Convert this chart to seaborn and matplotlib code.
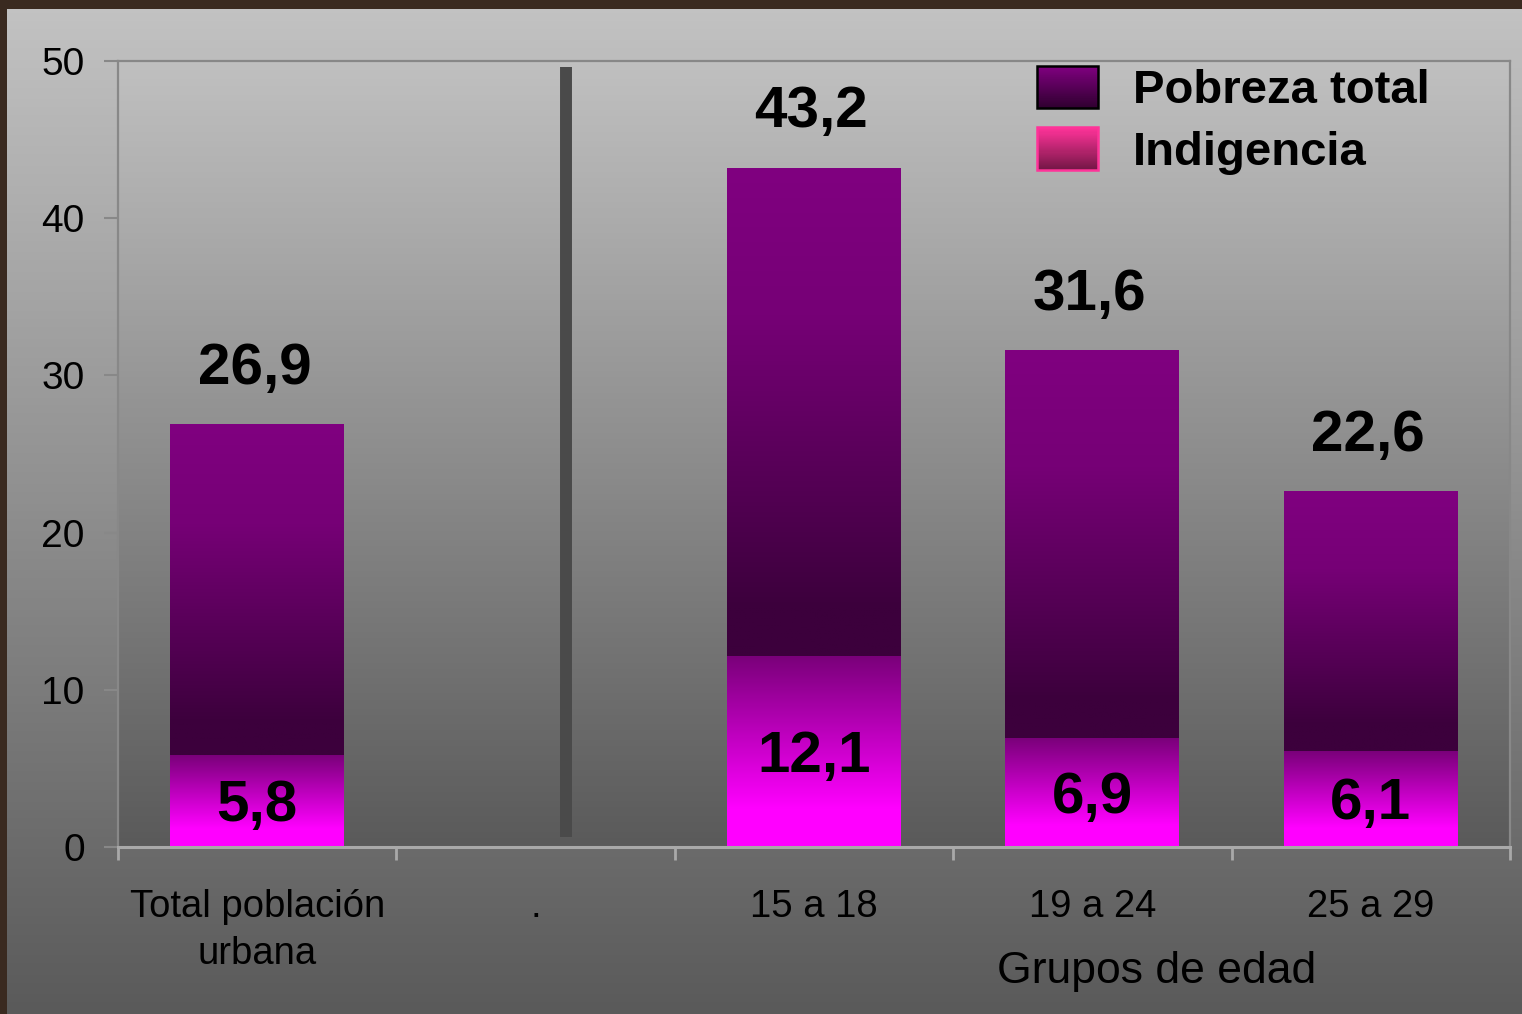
import numpy as np
import pandas as pd
import matplotlib
matplotlib.use("Agg")
import matplotlib.pyplot as plt
from matplotlib.colors import LinearSegmentedColormap
from matplotlib.patches import Patch, Rectangle
from matplotlib.legend_handler import HandlerBase
import seaborn as sns

# %% datos
categorias = ["Total población\nurbana", ".", "15 a 18", "19 a 24", "25 a 29"]
grupos = ["Total población\nurbana", "15 a 18", "19 a 24", "25 a 29"]
pobreza_total = [26.9, 43.2, 31.6, 22.6]
indigencia = [5.8, 12.1, 6.9, 6.1]
etiquetas_total = ["26,9", "43,2", "31,6", "22,6"]
etiquetas_ind = ["5,8", "12,1", "6,9", "6,1"]
y_ticks = [0, 10, 20, 30, 40, 50]

df = pd.DataFrame({"Grupo": grupos, "Pobreza total": pobreza_total, "Indigencia": indigencia})

# %% estilo
sns.set_style("ticks")
plt.rcParams["font.family"] = ["Liberation Sans", "DejaVu Sans"]
plt.rcParams["text.color"] = "black"

cmap_pobreza = LinearSegmentedColormap.from_list(
    "pob", [(0, "#800080"), (0.3, "#760076"), (0.9, "#3c003c"), (1, "#3c003c")])
cmap_indig = LinearSegmentedColormap.from_list(
    "ind", [(0, "#7a007a"), (0.8, "#ff00ff"), (1, "#ff00ff")])
cmap_fondo = LinearSegmentedColormap.from_list("fondo", ["#c2c2c2", "#5a5a5a"])
cmap_area = LinearSegmentedColormap.from_list("area", ["#c0c0c0", "#5a5a5a"])
cmap_leg_pob = LinearSegmentedColormap.from_list("lp", ["#800080", "#300030"])
cmap_leg_ind = LinearSegmentedColormap.from_list("li", ["#ff3399", "#771748"])

grad = np.linspace(0, 1, 256).reshape(-1, 1)

fig = plt.figure(figsize=(15.22, 10.14), dpi=100)
fig.patch.set_facecolor("#3a2a20")

# panel de fondo
bg = fig.add_axes([7 / 1522, 0, 1 - 7 / 1522, 1 - 9 / 1014], zorder=-10)
bg.imshow(grad, aspect="auto", cmap=cmap_fondo, extent=[0, 1, 0, 1])
bg.set_axis_off()

ax = fig.add_axes([118 / 1522, 1 - 847 / 1014, 1392 / 1522, 786 / 1014])
ax.set_facecolor("none")
ax.imshow(grad, aspect="auto", cmap=cmap_area, extent=[0, 1, 0, 1], transform=ax.transAxes, zorder=0)

# barras
sns.barplot(data=df, x="Grupo", y="Pobreza total", order=categorias, width=0.625,
            errorbar=None, ax=ax, color="#800080")
n = len(ax.patches)
sns.barplot(data=df, x="Grupo", y="Indigencia", order=categorias, width=0.625,
            errorbar=None, ax=ax, color="#ff00ff")
bars_total = ax.patches[:n]
bars_ind = ax.patches[n:]

for bt, bi, lt, li in zip(bars_total, bars_ind, etiquetas_total, etiquetas_ind):
    x0, w = bt.get_x(), bt.get_width()
    top, ind = bt.get_height(), bi.get_height()
    bt.set_facecolor("none"); bt.set_linewidth(0)
    bi.set_facecolor("none"); bi.set_linewidth(0)
    ax.imshow(grad, aspect="auto", cmap=cmap_pobreza, extent=[x0, x0 + w, ind, top], zorder=2)
    ax.imshow(grad, aspect="auto", cmap=cmap_indig, extent=[x0, x0 + w, 0, ind], zorder=2)
    xc = x0 + w / 2
    ax.annotate(lt, (xc, top), xytext=(-2, 40), textcoords="offset points",
                ha="center", va="center", fontsize=42, fontweight="bold", color="black")
    ax.annotate(li, (xc, ind / 2), xytext=(0, -3.5), textcoords="offset points",
                ha="center", va="center", fontsize=42, fontweight="bold", color="black", zorder=4)

# separador
ax.axvline(1.11, ymin=0.64 / 50, ymax=49.6 / 50, color="#4a4a4a", linewidth=8.6,
           solid_capstyle="butt", zorder=3)

ax.set_xlim(-0.5, 4.5)
ax.set_ylim(0, 50)
ax.set_yticks(y_ticks)
ax.set_yticklabels([str(v) for v in y_ticks])
ax.set_xlabel("")
ax.set_ylabel("")

for s in ["top", "right", "left"]:
    ax.spines[s].set_visible(True)
    ax.spines[s].set_color("#888888")
    ax.spines[s].set_linewidth(1.6)
ax.spines["bottom"].set_color("#a9a9a9")
ax.spines["bottom"].set_linewidth(2.2)

ax.tick_params(axis="y", length=10, width=1.5, color="#888888", labelsize=28, pad=14, labelcolor="black")
ax.tick_params(axis="x", which="major", length=0, labelsize=27.5, pad=30, labelcolor="black")
for t in ax.get_xticklabels():
    t.set_linespacing(1.4)
ax.set_xticks(np.arange(-0.5, 5, 1), minor=True)
ax.tick_params(axis="x", which="minor", length=9, width=2, color="#a9a9a9")

fig.text(1157 / 1522, 1 - 972 / 1014, "Grupos de edad", ha="center", va="center",
         fontsize=32, color="black")


# leyenda con degradado
class GradHandler(HandlerBase):
    def __init__(self, cmap, edge):
        super().__init__()
        self.cmap, self.edge = cmap, edge

    def create_artists(self, legend, orig_handle, xdescent, ydescent, width, height, fontsize, trans):
        arts = []
        steps = 40
        for i in range(steps):
            y = -ydescent + height * (1 - (i + 1) / steps)
            arts.append(Rectangle((-xdescent, y), width, height / steps + 0.2,
                                  facecolor=self.cmap(i / (steps - 1)), linewidth=0, transform=trans))
        arts.append(Rectangle((-xdescent, -ydescent), width, height, facecolor="none",
                              edgecolor=self.edge, linewidth=1.8, transform=trans))
        return arts


h1, h2 = Patch(), Patch()
leg = fig.legend([h1, h2], ["Pobreza total", "Indigencia"],
                 handler_map={h1: GradHandler(cmap_leg_pob, "black"), h2: GradHandler(cmap_leg_ind, "#ff3399")},
                 loc="upper left", bbox_to_anchor=(1037 / 1522, 1 - 66 / 1014), frameon=False,
                 prop={"size": 34, "weight": "bold"}, handlelength=1.3, handleheight=1.0,
                 handletextpad=0.74, labelspacing=0.3, borderpad=0, borderaxespad=0)
for t in leg.get_texts():
    t.set_color("black")

fig.savefig("out.png", dpi=100, facecolor=fig.get_facecolor())
